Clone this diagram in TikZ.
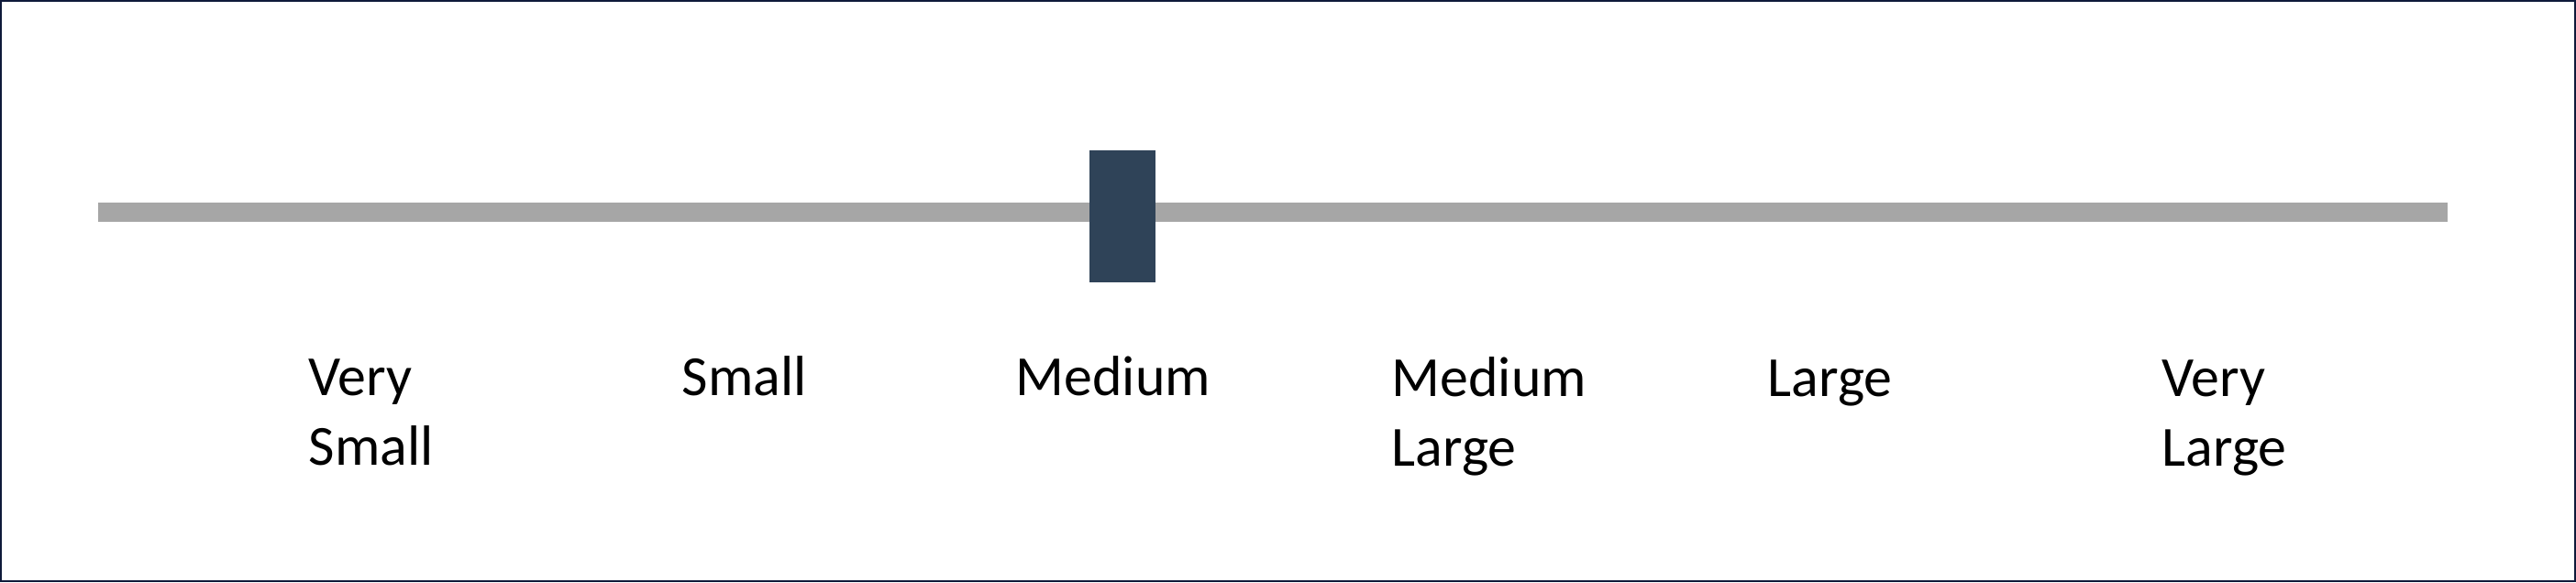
\documentclass[tikz,border=0pt]{standalone}
\usepackage{fontspec}
\setmainfont{Carlito}
\definecolor{barGray}{HTML}{A6A6A6}
\definecolor{knobBlue}{HTML}{2F4358}
\definecolor{frameBlue}{HTML}{0F1A3A}
\begin{document}
\begin{tikzpicture}[
  levelname/.style={anchor=base west, align=left, inner sep=0pt,
    font=\fontsize{17.6}{21.9}\selectfont},
  knob/.style={fill=knobBlue, minimum width=0.72cm, minimum height=1.44cm, inner sep=0pt}]
\useasboundingbox (0,0) rectangle (28.09,6.35);
\draw[frameBlue, line width=0.6pt] (0.01,0.01) rectangle (28.08,6.34);
\fill[barGray] (1.07,3.933) rectangle (26.69,4.143);
\node[knob] (knob) at (12.24,3.99) {};
% two-line labels sit on the baseline of their last line
\node[levelname] (vs) at (3.36,1.27) {Very\\Small};
\node[levelname] (s) at (7.43,2.04) {Small};
\node[levelname] (m) at (11.07,2.04) {Medium};
\node[levelname] (ml) at (15.17,1.26) {Medium\\Large};
\node[levelname] (l) at (19.27,2.02) {Large};
\node[levelname] (vl) at (23.57,1.26) {Very\\Large};
\end{tikzpicture}
\end{document}
